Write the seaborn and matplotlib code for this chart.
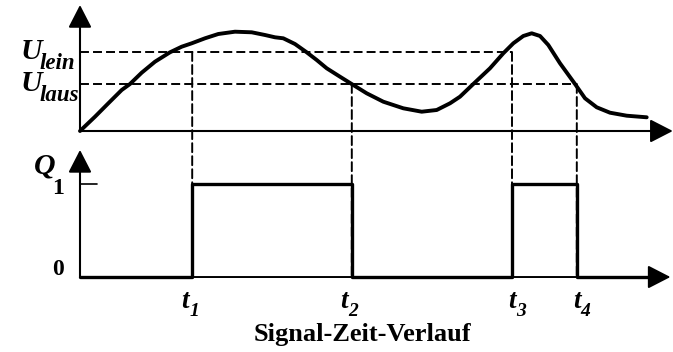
import numpy as np
import pandas as pd
import matplotlib
matplotlib.use("Agg")
import matplotlib.pyplot as plt
from matplotlib.patches import ConnectionPatch
import seaborn as sns

# Input signal U(t) of the Schmitt trigger (time in ms, voltage in V)
signal_time = [0.0, 2.5, 4.72, 6.95, 8.33, 10.28, 12.5, 15.0, 16.95, 18.62,
               20.83, 23.05, 25.83, 28.62, 30.83, 32.5, 33.88, 35.83, 37.78,
               39.45, 41.12, 43.33, 45.28, 47.78, 50.55, 53.88, 56.95, 59.45,
               61.67, 63.33, 65.55, 68.33, 70.55, 72.22, 73.88, 75.28, 76.67,
               78.05, 80.0, 82.5, 84.17, 86.12, 88.33, 91.12, 94.45]
signal_volt = [0.0, 1.43, 2.77, 4.1, 4.7, 5.83, 6.93, 7.87, 8.43, 8.77,
               9.27, 9.7, 9.93, 9.87, 9.6, 9.37, 9.27, 8.7, 7.87,
               7.1, 6.27, 5.43, 4.7, 3.77, 2.93, 2.27, 1.93, 2.1,
               2.77, 3.43, 4.7, 6.27, 7.77, 8.77, 9.5, 9.77, 9.5,
               8.6, 6.77, 4.7, 3.27, 2.37, 1.83, 1.53, 1.37]

# Switching thresholds
u_lein = 7.9
u_laus = 4.7

# Switching instants t1..t4 and the threshold each one belongs to
switch_times = [18.7, 45.3, 72.0, 82.8]
switch_levels = [u_lein, u_laus, u_lein, u_laus]
switch_names = ["1", "2", "3", "4"]

# Output Q as a step signal
q_times = [0.0, 18.7, 45.3, 72.0, 82.8, 95.3]
q_levels = [0, 1, 0, 1, 0, 0]

sns.set_style("white")
plt.rcParams["font.family"] = ["Liberation Serif", "DejaVu Serif"]

W, H = 673, 352
fig = plt.figure(figsize=(W / 100, H / 100), dpi=100)

x_lim = (-13.333, 98.833)
ax_u = fig.add_axes([0, 1 - 145 / H, 1, 145 / H])
ax_u.set_xlim(*x_lim)
ax_u.set_ylim(-1.4, 13.1)
ax_q = fig.add_axes([0, 0, 1, 1 - 145 / H])
ax_q.set_xlim(*x_lim)
ax_q.set_ylim(-0.806, 1.419)
for ax in (ax_u, ax_q):
    ax.axis("off")
    ax.patch.set_alpha(0)

ink = "black"


def axis_arrow(ax, tip, lw=1.5):
    ax.annotate("", xy=tip, xytext=(0, 0), xycoords="data",
                arrowprops=dict(arrowstyle="-|>,head_length=1.4,head_width=0.72",
                                mutation_scale=10, lw=lw, color=ink,
                                shrinkA=0, shrinkB=0),
                annotation_clip=False)


axis_arrow(ax_u, (0, 12.6))
axis_arrow(ax_u, (98.8, 0))
axis_arrow(ax_q, (0, 1.366))
axis_arrow(ax_q, (98.4, 0), lw=1.4)

dash = (0, (4.6, 2.1))
dash_lw = 1.4

# Threshold lines up to the instants where they are crossed
ax_u.plot([0, switch_times[2]], [u_lein, u_lein], color=ink, lw=dash_lw, ls=dash)
ax_u.plot([0, switch_times[3]], [u_laus, u_laus], color=ink, lw=dash_lw, ls=dash)

# Input curve
sns.lineplot(x=signal_time, y=signal_volt, ax=ax_u, color=ink, lw=2.8,
             sort=False, estimator=None, solid_joinstyle="round",
             solid_capstyle="round")

# Output step signal
sns.lineplot(x=q_times, y=q_levels, ax=ax_q, color=ink, lw=2.4,
             drawstyle="steps-post", sort=False, estimator=None)

# Tick at Q = 1
ax_q.plot([0, 2.83], [1, 1], color=ink, lw=1.2)

# Dashed projections from the thresholds down to the Q time axis
for t, lvl in zip(switch_times, switch_levels):
    con = ConnectionPatch(xyA=(t, lvl), coordsA=ax_u.transData,
                          xyB=(t, 0), coordsB=ax_q.transData,
                          color=ink, lw=dash_lw, linestyle=dash)
    fig.add_artist(con)

bi = dict(family="Liberation Serif", fontweight="bold", fontstyle="italic",
          color=ink)
bu = dict(family="Liberation Serif", fontweight="bold", color=ink)

# Threshold labels U_lein / U_laus
for lvl, sub in [(u_lein, "lein"), (u_laus, "laus")]:
    ax_u.annotate("U", xy=(0, lvl), xytext=(-59, -7), textcoords="offset pixels",
                  ha="left", va="baseline", fontsize=21.5, **bi)
    ax_u.annotate(sub, xy=(0, lvl), xytext=(-40, -17), textcoords="offset pixels",
                  ha="left", va="baseline", fontsize=16.5, **bi)

# Q axis labels
ax_q.annotate("Q", xy=(0, 1), xytext=(-46, 10), textcoords="offset pixels",
              ha="left", va="baseline", fontsize=21.5, **bi)
ax_q.annotate("1", xy=(0, 1), xytext=(-22, -5), textcoords="offset pixels",
              ha="center", va="center", fontsize=17, **bu)
ax_q.annotate("0", xy=(0, 0), xytext=(-22, 8), textcoords="offset pixels",
              ha="center", va="center", fontsize=17, **bu)

# Time instant labels t1..t4
label_shift = [-7, -8, 0, 0]
for t, name, dx in zip(switch_times, switch_names, label_shift):
    ax_q.annotate("t", xy=(t, 0), xytext=(dx, -31), textcoords="offset pixels",
                  ha="center", va="baseline", fontsize=19.5, **bi)
    ax_q.annotate(name, xy=(t, 0), xytext=(dx + 4, -39), textcoords="offset pixels",
                  ha="left", va="baseline", fontsize=14, **bi)

fig.text(362 / W, 1 - 341 / H, "Signal-Zeit-Verlauf", ha="center",
         va="baseline", fontsize=19, **bu)

fig.savefig("out.png", dpi=100, facecolor="white")
